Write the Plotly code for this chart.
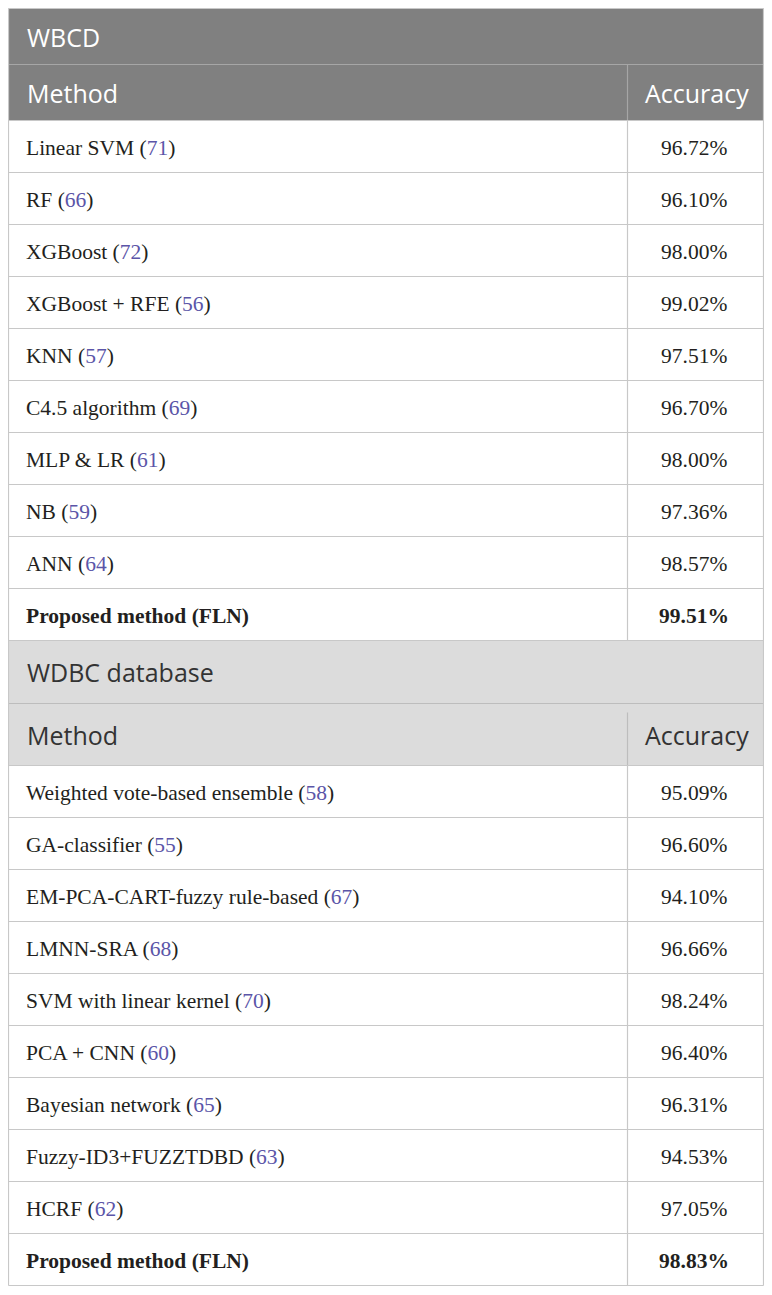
import plotly.graph_objects as go

# ---------------- data ----------------
section_titles = ["WBCD", "WDBC database"]
col_headers = ["Method", "Accuracy"]

wbcd_methods = ["Linear SVM", "RF", "XGBoost", "XGBoost + RFE", "KNN",
                "C4.5 algorithm", "MLP & LR", "NB", "ANN", "Proposed method (FLN)"]
wbcd_refs = [71, 66, 72, 56, 57, 69, 61, 59, 64, None]
wbcd_acc = [96.72, 96.10, 98.00, 99.02, 97.51, 96.70, 98.00, 97.36, 98.57, 99.51]

wdbc_methods = ["Weighted vote-based ensemble", "GA-classifier",
                "EM-PCA-CART-fuzzy rule-based", "LMNN-SRA",
                "SVM with linear kernel", "PCA + CNN", "Bayesian network",
                "Fuzzy-ID3+FUZZTDBD", "HCRF", "Proposed method (FLN)"]
wdbc_refs = [58, 55, 67, 68, 70, 60, 65, 63, 62, None]
wdbc_acc = [95.09, 96.60, 94.10, 96.66, 98.24, 96.40, 96.31, 94.53, 97.05, 98.83]

# ---------------- layout constants ----------------
# The page body has an 8px margin, so the figure is placed at (8, 8);
# axis ranges are set so that data units equal page pixels.
PAGE_OFF = 8
X_LO, X_HI = 7.5, 764.5
Y_LO, Y_HI = 7.5, 1286.5
FIG_W = int(X_HI - X_LO)
FIG_H = int(Y_HI - Y_LO)

X0, XD, X1 = 8, 627, 763
ROW_H = 52
SERIF = "Liberation Serif, Times New Roman, serif"
SANS = "Open Sans, Noto Sans, sans-serif"
REF_COLOR = "#5b55a8"
TEXT_COLOR = "#231f20"
GRID = "#c8c8c8"

sections = [
    dict(title=section_titles[0], methods=wbcd_methods, refs=wbcd_refs, acc=wbcd_acc,
         top=8, title_h=56, head_h=56, bg="#808080", fg="#ffffff",
         sep="#a6a6a6", vtop_offset=0),
    dict(title=section_titles[1], methods=wdbc_methods, refs=wdbc_refs, acc=wdbc_acc,
         top=640, title_h=63, head_h=62, bg="#dcdcdc", fg="#333333",
         sep="#bdbdbd", vtop_offset=9),
]

shapes = []
annotations = []


def rect(x0, y0, x1, y1, fill):
    shapes.append(dict(type="rect", xref="x", yref="y", x0=x0, y0=y0, x1=x1, y1=y1,
                       fillcolor=fill, line=dict(width=0, color=fill),
                       layer="below"))


def line(x0, y0, x1, y1, color, lw=1.2):
    shapes.append(dict(type="line", xref="x", yref="y", x0=x0, y0=y0, x1=x1, y1=y1,
                       line=dict(width=lw, color=color), layer="above"))


def text(x, y, s, font, size, color, anchor="left"):
    annotations.append(dict(x=x, y=y, xref="x", yref="y", text=s, showarrow=False,
                            xanchor=anchor, yanchor="middle",
                            font=dict(family=font, size=size, color=color)))


for sec in sections:
    t = sec["top"]
    hdr_top = t + sec["title_h"]
    body_top = hdr_top + sec["head_h"]
    n = len(sec["methods"])
    body_bot = body_top + n * ROW_H

    # backgrounds
    rect(X0, t, X1, body_top, sec["bg"])
    rect(X0, body_top, X1, body_bot, "#ffffff")

    # title row + header row text
    text(X0 + 16, t + sec["title_h"] / 2, sec["title"], SANS, 25, sec["fg"])
    text(X0 + 16, hdr_top + sec["head_h"] / 2, col_headers[0], SANS, 25, sec["fg"])
    text((XD + X1) / 2 + 1, hdr_top + sec["head_h"] / 2, col_headers[1], SANS, 25,
         sec["fg"], anchor="center")

    # header separators
    line(X0, hdr_top, X1, hdr_top, sec["sep"])
    line(XD, hdr_top + sec["vtop_offset"], XD, body_top, sec["sep"])
    line(X0, body_top, X1, body_top, GRID)

    # body rows
    for i, (m, r, a) in enumerate(zip(sec["methods"], sec["refs"], sec["acc"])):
        yc = body_top + i * ROW_H + ROW_H / 2
        if r is None:
            label = f"<b>{m}</b>"
            val = f"<b>{a:.2f}%</b>"
        else:
            label = f"{m} (<span style='color:{REF_COLOR}'>{r}</span>)"
            val = f"{a:.2f}%"
        text(X0 + 15, yc + 1, label, SERIF, 21.5, TEXT_COLOR)
        text((XD + X1) / 2 - 2, yc + 1, val, SERIF, 21.5, TEXT_COLOR, anchor="center")
        line(X0, body_top + (i + 1) * ROW_H, X1, body_top + (i + 1) * ROW_H, GRID)

    # body vertical lines
    line(XD, body_top, XD, body_bot, GRID)

# outer borders
last_bot = sections[-1]["top"] + sections[-1]["title_h"] + sections[-1]["head_h"] + \
    len(sections[-1]["methods"]) * ROW_H
line(X0, sections[0]["top"], X1, sections[0]["top"], GRID)
line(X0, sections[0]["top"], X0, last_bot, GRID)
line(X1, sections[0]["top"], X1, last_bot, GRID)
line(X0, sections[1]["top"], X1, sections[1]["top"], GRID)

fig = go.Figure()
fig.add_trace(go.Scatter(x=[X_LO, X_HI], y=[Y_LO, Y_HI], mode="markers",
                         marker=dict(opacity=0), hoverinfo="skip", showlegend=False))
fig.update_layout(
    width=FIG_W, height=FIG_H,
    margin=dict(l=0, r=0, t=0, b=0, pad=0),
    paper_bgcolor="#ffffff", plot_bgcolor="#ffffff",
    xaxis=dict(range=[X_LO, X_HI], visible=False, fixedrange=True),
    yaxis=dict(range=[Y_HI, Y_LO], visible=False, fixedrange=True),
    shapes=shapes, annotations=annotations, showlegend=False,
)
fig.write_html("out.html")
